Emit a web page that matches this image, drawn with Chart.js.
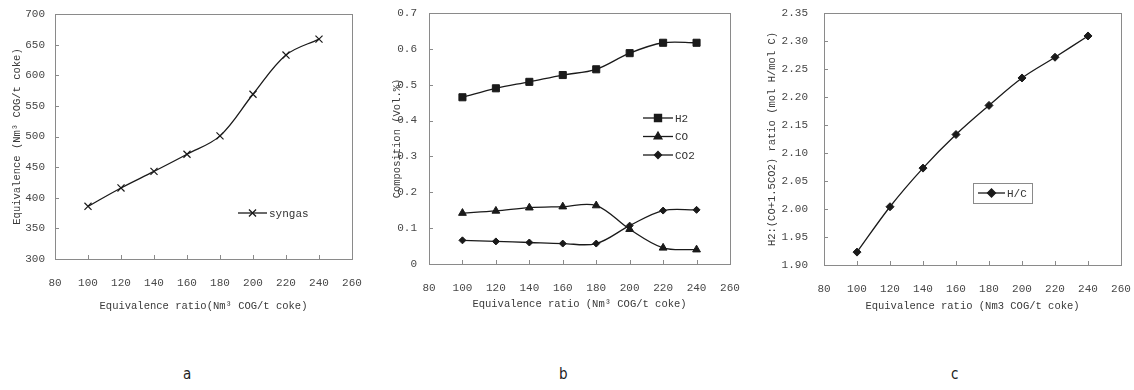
<!DOCTYPE html>
<html>
<head>
<meta charset="utf-8">
<script src="https://cdn.jsdelivr.net/npm/chart.js@4/dist/chart.umd.min.js"></script>
<style>
  body { margin: 0; background: #fff; width: 1134px; height: 390px; position: relative; overflow: hidden; }
  .panel { position: absolute; top: 0; height: 330px; }
  .tag { position: absolute; top: 365px; font: 15px "DejaVu Sans Condensed", "DejaVu Sans", sans-serif; color: #222; }
</style>
</head>
<body>
<div class="panel" style="left:0;width:370px"><canvas id="chartA"></canvas></div>
<div class="panel" style="left:370px;width:370px"><canvas id="chartB"></canvas></div>
<div class="panel" style="left:740px;width:394px"><canvas id="chartC"></canvas></div>
<div class="tag" style="left:183px">a</div>
<div class="tag" style="left:559px">b</div>
<div class="tag" style="left:951px">c</div>

<script>
// dados
const ratio = [100, 120, 140, 160, 180, 200, 220, 240];
const xTicks = [80, 100, 120, 140, 160, 180, 200, 220, 240, 260];

const syngas = [386, 416, 443, 471, 501, 569, 633, 659];
const ticksA = [300, 350, 400, 450, 500, 550, 600, 650, 700];

const h2 = [0.465, 0.490, 0.508, 0.527, 0.543, 0.588, 0.617, 0.617];
const co = [0.142, 0.148, 0.157, 0.160, 0.163, 0.097, 0.045, 0.040];
const co2 = [0.066, 0.063, 0.060, 0.057, 0.057, 0.107, 0.149, 0.151];
const ticksB = [0, 0.1, 0.2, 0.3, 0.4, 0.5, 0.6, 0.7];

const hc = [1.923, 2.004, 2.073, 2.133, 2.185, 2.234, 2.271, 2.309];
const ticksC = [1.90, 1.95, 2.00, 2.05, 2.10, 2.15, 2.20, 2.25, 2.30, 2.35];

const FONT = '"Liberation Mono", "DejaVu Sans Mono", monospace';
const INK = '#1a1a1a';
const TXT = '#474747';

const pts = vals => vals.map((v, i) => ({ x: ratio[i], y: v }));

// moldura, marcas internas e legenda
const framePlugin = {
  id: 'frame',
  afterDatasetsDraw(chart) {
    const { ctx, chartArea: a, scales } = chart;
    ctx.save();
    ctx.strokeStyle = '#8a8a8a';
    ctx.lineWidth = 1;
    ctx.strokeRect(Math.round(a.left) + 0.5, Math.round(a.top) + 0.5,
      Math.round(a.right - a.left), Math.round(a.bottom - a.top));
    ctx.beginPath();
    scales.x.ticks.forEach(t => {
      const px = Math.round(scales.x.getPixelForValue(t.value)) + 0.5;
      ctx.moveTo(px, a.bottom); ctx.lineTo(px, a.bottom - 4);
    });
    scales.y.ticks.forEach(t => {
      const py = Math.round(scales.y.getPixelForValue(t.value)) + 0.5;
      ctx.moveTo(a.left, py); ctx.lineTo(a.left + 4, py);
    });
    ctx.stroke();

    const lg = chart.options.plugins.boxLegend;
    if (lg) {
      ctx.font = '11px ' + FONT;
      ctx.textBaseline = 'middle';
      chart.data.datasets.forEach((ds, i) => {
        const y = lg.y + i * (lg.rowH || 0);
        ctx.strokeStyle = INK;
        ctx.lineWidth = 1.3;
        ctx.beginPath();
        ctx.moveTo(lg.x, y); ctx.lineTo(lg.x + lg.len, y);
        ctx.stroke();
        ctx.fillStyle = INK;
        Chart.helpers.drawPoint(ctx, {
          pointStyle: ds.pointStyle, radius: ds.pointRadius, borderWidth: ds.pointBorderWidth || 1, rotation: 0
        }, lg.x + lg.len / 2, y);
        ctx.fillStyle = '#333';
        ctx.fillText(ds.label, lg.x + lg.len + 2, y + 1);
      });
      if (lg.box) {
        ctx.strokeStyle = '#8a8a8a';
        ctx.lineWidth = 1;
        ctx.strokeRect(lg.box[0] + 0.5, lg.box[1] + 0.5, lg.box[2], lg.box[3]);
      }
    }
    ctx.restore();
  }
};

function lineSet(label, vals, style, r) {
  return {
    label: label,
    data: pts(vals),
    borderColor: INK,
    backgroundColor: INK,
    borderWidth: 1.3,
    pointStyle: style,
    pointRadius: r,
    pointHoverRadius: r,
    pointBorderColor: INK,
    pointBackgroundColor: INK,
    pointBorderWidth: style === 'crossRot' ? 1.2 : 1,
    tension: 0.35
  };
}

function makeChart(id, cfg) {
  new Chart(document.getElementById(id), {
    type: 'line',
    data: { datasets: cfg.datasets },
    options: {
      responsive: true,
      maintainAspectRatio: false,
      animation: false,
      events: [],
      layout: { padding: cfg.pad },
      plugins: { legend: { display: false }, tooltip: { enabled: false }, boxLegend: cfg.legend },
      scales: {
        x: {
          type: 'linear', min: 80, max: 260,
          afterBuildTicks: s => { s.ticks = xTicks.map(v => ({ value: v })); },
          afterFit: s => { s.height = 60; s.paddingLeft = 0; s.paddingRight = 0; },
          grid: { display: false, drawTicks: false },
          border: { display: false },
          ticks: { color: TXT, font: { family: FONT, size: 11 }, padding: 17, maxRotation: 0 },
          title: { display: true, text: cfg.xTitle, color: '#3a3a3a', font: { family: FONT, size: 10.5 },
                   padding: { top: 0, bottom: cfg.xTitlePad } }
        },
        y: {
          min: cfg.yTicks[0], max: cfg.yTicks[cfg.yTicks.length - 1],
          afterBuildTicks: s => { s.ticks = cfg.yTicks.map(v => ({ value: v })); },
          afterFit: s => { s.width = cfg.yWidth; s.paddingTop = 0; s.paddingBottom = 0; },
          grid: { display: false, drawTicks: false },
          border: { display: false },
          ticks: { color: TXT, font: { family: FONT, size: 11 }, padding: cfg.yTickPad, callback: cfg.fmt },
          title: { display: true, text: cfg.yTitle, color: '#3a3a3a', font: { family: FONT, size: 10.5 },
                   padding: { top: cfg.yTitlePad, bottom: 0 } }
        }
      }
    },
    plugins: [framePlugin]
  });
}

makeChart('chartA', {
  datasets: [lineSet('syngas', syngas, 'crossRot', 5)],
  pad: { top: 14, right: 18, bottom: 11, left: 0 },
  yTicks: ticksA, yWidth: 55, yTickPad: 10, yTitlePad: 11, xTitlePad: 6,
  fmt: v => String(v),
  xTitle: 'Equivalence ratio(Nm³ COG/t coke)',
  yTitle: 'Equivalence (Nm³ COG/t coke)',
  legend: { x: 238, y: 213, len: 29 }
});

makeChart('chartB', {
  datasets: [
    lineSet('H2', h2, 'rect', 5),
    lineSet('CO', co, 'triangle', 4.5),
    lineSet('CO2', co2, 'rectRot', 3.5)
  ],
  pad: { top: 13, right: 10, bottom: 6, left: 0 },
  yTicks: ticksB, yWidth: 59, yTickPad: 12, yTitlePad: 21, xTitlePad: 13,
  fmt: v => v === 0 ? '0' : v.toFixed(1),
  xTitle: 'Equivalence ratio (Nm³ COG/t coke)',
  yTitle: 'Composition (Vol.%)',
  legend: { x: 273, y: 118, len: 30, rowH: 18.5 }
});

makeChart('chartC', {
  datasets: [lineSet('H/C', hc, 'rectRot', 4)],
  pad: { top: 13, right: 13, bottom: 5, left: 0 },
  yTicks: ticksC, yWidth: 84, yTickPad: 16, yTitlePad: 26, xTitlePad: 12,
  fmt: v => v.toFixed(2),
  xTitle: 'Equivalence ratio (Nm3 COG/t coke)',
  yTitle: 'H2:(CO+1.5CO2) ratio (mol H/mol C)',
  legend: { x: 238, y: 193, len: 27, box: [233, 183, 59, 20] }
});
</script>
</body>
</html>
